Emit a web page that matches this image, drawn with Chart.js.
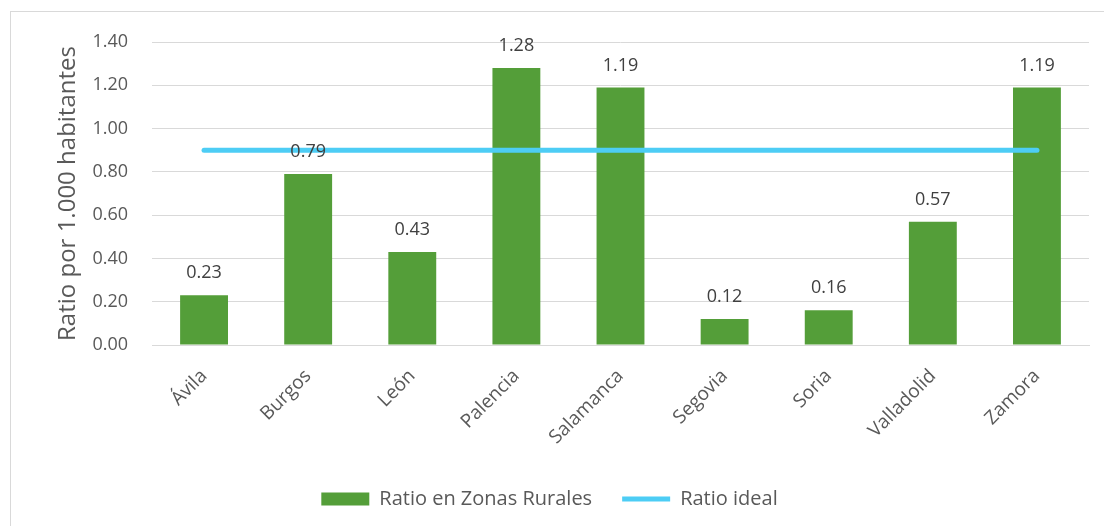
<!DOCTYPE html>
<html>
<head>
<meta charset="utf-8">
<script src="https://cdn.jsdelivr.net/npm/chart.js@4.4.1/dist/chart.umd.min.js"></script>
<style>
  html, body { margin: 0; padding: 0; background: #fff; }
  #wrap { position: relative; width: 1104px; height: 526px; }
</style>
</head>
<body>
<div id="wrap"><canvas id="c" width="1104" height="526"></canvas></div>
<script>
var provincias = ['Ávila', 'Burgos', 'León', 'Palencia', 'Salamanca', 'Segovia', 'Soria', 'Valladolid', 'Zamora'];
var ratioRural = [0.23, 0.79, 0.43, 1.28, 1.19, 0.12, 0.16, 0.57, 1.19];
var ratioIdeal = [0.90, 0.90, 0.90, 0.90, 0.90, 0.90, 0.90, 0.90, 0.90];

var FONT = '"Open Sans", "Noto Sans", sans-serif';
var GREY = '#595959';

// marco gris alrededor del gráfico
var marco = {
    id: 'marco',
    beforeDraw: function(chart) {
        var ctx = chart.ctx;
        ctx.save();
        ctx.strokeStyle = '#d9d9d9';
        ctx.lineWidth = 1;
        ctx.strokeRect(10.5, 11.5, 1110, 530);
        ctx.restore();
    }
};

// etiquetas de valor encima de las barras
var etiquetas = {
    id: 'etiquetas',
    afterDatasetsDraw: function(chart) {
        var ctx = chart.ctx;
        var meta = chart.getDatasetMeta(1);
        ctx.save();
        ctx.font = '18px ' + FONT;
        ctx.fillStyle = '#404040';
        ctx.textAlign = 'center';
        ctx.textBaseline = 'middle';
        meta.data.forEach(function(bar, i) {
            ctx.fillText(ratioRural[i].toFixed(2), bar.x, bar.y - 22);
        });
        ctx.restore();
    }
};

new Chart(document.getElementById('c'), {
    type: 'bar',
    data: {
        labels: provincias,
        datasets: [{
            type: 'line',
            label: 'Ratio ideal',
            data: ratioIdeal,
            borderColor: '#4dcdf5',
            backgroundColor: '#4dcdf5',
            borderWidth: 5,
            borderCapStyle: 'round',
            pointRadius: 0,
            pointStyle: 'line',
            order: 0
        }, {
            label: 'Ratio en Zonas Rurales',
            data: ratioRural,
            backgroundColor: '#549e39',
            barPercentage: 0.46,
            categoryPercentage: 1,
            pointStyle: 'rect',
            order: 1
        }]
    },
    options: {
        responsive: false,
        animation: false,
        layout: { padding: { left: 10, right: 15, top: 42, bottom: 7 } },
        plugins: {
            legend: {
                position: 'bottom',
                reverse: true,
                labels: {
                    usePointStyle: true,
                    pointStyleWidth: 48,
                    boxHeight: 13,
                    color: GREY,
                    font: { family: FONT, size: 20 },
                    padding: 30
                }
            },
            tooltip: { enabled: false }
        },
        scales: {
            x: {
                grid: { display: false },
                border: { color: '#d9d9d9' },
                ticks: {
                    color: GREY,
                    font: { family: FONT, size: 19 },
                    maxRotation: 45,
                    minRotation: 45,
                    padding: 12
                },
                afterFit: function(s) { s.height = 114; }
            },
            y: {
                min: 0,
                max: 1.4,
                ticks: {
                    stepSize: 0.2,
                    color: GREY,
                    font: { family: FONT, size: 18 },
                    padding: 24,
                    callback: function(v) { return v.toFixed(2); }
                },
                grid: { color: '#d9d9d9', drawTicks: false },
                border: { display: false },
                title: {
                    display: true,
                    text: 'Ratio por 1.000 habitantes',
                    color: GREY,
                    font: { family: FONT, size: 24 },
                    padding: { top: 44, bottom: 4 }
                },
                afterFit: function(s) { s.width = 142; }
            }
        }
    },
    plugins: [marco, etiquetas]
});
</script>
</body>
</html>
